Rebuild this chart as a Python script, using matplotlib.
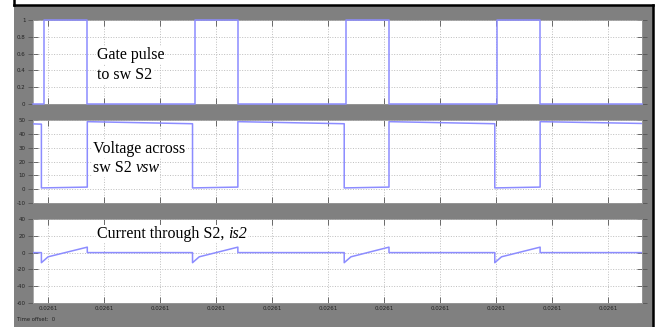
import matplotlib
matplotlib.use("Agg")
import matplotlib.pyplot as plt
from matplotlib.patches import Rectangle
from matplotlib.lines import Line2D
from matplotlib.text import Annotation

plt.rcParams['axes.unicode_minus'] = False

# ---- data (time axis in tick units; every tick reads 0.0261) ----
x_ticks = [1, 2, 3, 4, 5, 6, 7, 8, 9, 10, 11]
x_tick_labels = ["0.0261"] * 11
x_limits = [0.73, 11.61]

gate_t = [0.73, 0.93, 0.93, 1.69, 1.69, 3.62, 3.62, 4.39, 4.39, 6.32, 6.32,
          7.09, 7.09, 9.02, 9.02, 9.79, 9.79, 11.61]
gate_v = [0, 0, 1, 1, 0, 0, 1, 1, 0, 0, 1, 1, 0, 0, 1, 1, 0, 0]

volt_t = [0.73, 0.88, 0.88, 1.70, 1.70, 3.58, 3.58, 4.39, 4.39, 6.29, 6.29,
          7.09, 7.09, 8.98, 8.98, 9.79, 9.79, 11.61]
volt_v = [47.2, 47.0, 0.9, 1.5, 48.8, 47.3, 0.9, 1.5, 48.8, 47.3, 0.9,
          1.5, 48.8, 47.3, 0.9, 1.5, 48.8, 47.5]

curr_t = [0.73, 0.88, 0.88, 1.00, 1.70, 1.70, 3.58, 3.58, 3.70, 4.39, 4.39,
          6.29, 6.29, 6.41, 7.09, 7.09, 8.98, 8.98, 9.10, 9.79, 9.79, 11.61]
curr_v = [0, 0, -12, -5, 6.5, 0, 0, -12, -5, 6.5, 0,
          0, -12, -5, 6.5, 0, 0, -12, -5, 6.5, 0, 0]

gate_ticks = [0, 0.2, 0.4, 0.6, 0.8, 1]
gate_tick_labels = ["0", "0.2", "0.4", "0.6", "0.8", "1"]
volt_ticks = [-10, 0, 10, 20, 30, 40, 50]
curr_ticks = [-60, -40, -20, 0, 20, 40]

W, H = 659, 327
fig = plt.figure(figsize=(W / 100, H / 100), dpi=100)
fig.patch.set_facecolor('white')

GRAY = '#808080'
LINE = '#8c8cff'

# gray scope window with black frame (behind the axes)
fig.patches.append(Rectangle((14 / W, 0), (653 - 14) / W, 1 - 5 / H,
                             transform=fig.transFigure, facecolor=GRAY,
                             edgecolor='none', zorder=-3))
for xs, ys in [([14, 14], [0, 5]), ([14, 653], [5, 5]), ([653, 653], [5, 327])]:
    fig.lines.append(Line2D([x / W for x in xs], [1 - y / H for y in ys],
                            transform=fig.transFigure, color='black',
                            linewidth=1.8, zorder=-2))


def make_ax(top, bottom):
    l, r = 33, 642
    ax = fig.add_axes([l / W, 1 - bottom / H, (r - l) / W, (bottom - top) / H])
    ax.set_facecolor('white')
    ax.set_xlim(*x_limits)
    ax.set_xticks(x_ticks)
    ax.grid(True, color='#bdbdbd', linestyle=':', linewidth=0.7)
    for s in ax.spines.values():
        s.set_color('#9a9a9a')
        s.set_linewidth(0.6)
    ax.tick_params(axis='both', direction='in', length=4, width=0.6,
                   color='#555555', top=True, right=True, labelsize=4,
                   labelcolor='#222222', pad=2)
    ax.tick_params(axis='y', direction='inout', length=7)
    return ax


ax1 = make_ax(20, 104)
ax1.plot(gate_t, gate_v, color=LINE, linewidth=1.1, clip_on=False, zorder=5)
ax1.set_ylim(0, 1)
ax1.set_yticks(gate_ticks)
ax1.set_yticklabels(gate_tick_labels)
ax1.set_xticklabels([])

ax2 = make_ax(120, 203)
ax2.plot(volt_t, volt_v, color=LINE, linewidth=1.1, zorder=5)
ax2.set_ylim(-10, 50)
ax2.set_yticks(volt_ticks)
ax2.set_xticklabels([])

ax3 = make_ax(219, 303)
ax3.plot(curr_t, curr_v, color=LINE, linewidth=1.1, zorder=5)
ax3.set_ylim(-60, 40)
ax3.set_yticks(curr_ticks)
ax3.set_xticklabels(x_tick_labels)

font = dict(family='Liberation Serif', size=11.5, color='black',
            ha='left', zorder=10)
box = dict(facecolor='white', edgecolor='none', pad=0.5)


def label(x, y, s, italic_tail=None):
    t = fig.text(x / W, 1 - y / H, s, bbox=box, va='baseline', **font)
    if italic_tail:
        a = Annotation(italic_tail, xy=(1, 0), xycoords=t, va='bottom',
                       style='italic', bbox=box, annotation_clip=False,
                       **font)
        fig.add_artist(a)
    return t


label(97, 59, "Gate pulse")
label(97, 79, "to sw S2")
label(93, 153, "Voltage across")
label(93, 172, "sw S2 ", italic_tail="vsw")
label(97, 238, "Current through S2, ", italic_tail="is2")

fig.text(17 / W, 1 - 321 / H, "Time offset:  0", fontsize=3.8,
         color='#222222', va='baseline', ha='left')

fig.savefig('out.png', dpi=100, facecolor=fig.get_facecolor())
